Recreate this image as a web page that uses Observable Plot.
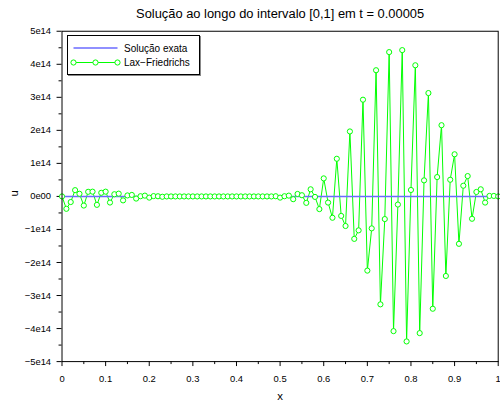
<!DOCTYPE html>
<html><head><meta charset="utf-8">
<script src="https://cdn.jsdelivr.net/npm/d3@7"></script>
<script src="https://cdn.jsdelivr.net/npm/@observablehq/plot@0.6"></script>
<style>
html,body{margin:0;padding:0;background:#fff;overflow:hidden;width:500px;height:408px;}
#wrap{position:relative;width:500px;height:408px;overflow:hidden;}
#wrap svg.plot{display:block;}
.legend{position:absolute;left:67px;top:35px;width:131px;height:38px;border:1px solid #000;background:#fff;box-shadow:1px 1px 0 #888;}
.legend svg{display:block;}
</style></head><body><div id="wrap"></div>
<script>
const title = "Solução ao longo do intervalo [0,1] em t = 0.00005";
const seriesNames = ["Solução exata", "Lax−Friedrichs"];
const xs = [0,0.01,0.02,0.03,0.04,0.05,0.06,0.07,0.08,0.09,
  0.1,0.11,0.12,0.13,0.14,0.15,0.16,0.17,0.18,0.19,
  0.2,0.21,0.22,0.23,0.24,0.25,0.26,0.27,0.28,0.29,
  0.3,0.31,0.32,0.33,0.34,0.35,0.36,0.37,0.38,0.39,
  0.4,0.41,0.42,0.43,0.44,0.45,0.46,0.47,0.48,0.49,
  0.5,0.51,0.52,0.53,0.54,0.55,0.56,0.57,0.58,0.59,
  0.6,0.61,0.62,0.63,0.64,0.65,0.66,0.67,0.68,0.69,
  0.7,0.71,0.72,0.73,0.74,0.75,0.76,0.77,0.78,0.79,
  0.8,0.81,0.82,0.83,0.84,0.85,0.86,0.87,0.88,0.89,
  0.9,0.91,0.92,0.93,0.94,0.95,0.96,0.97,0.98,0.99,1];
// Lax-Friedrichs values, in units of 1e14
const laxFriedrichs = [0,-0.375,-0.17,0.19,0.08,-0.276,0.14,0.144,-0.255,0.11,
  0.144,-0.185,0.066,0.084,-0.12,0.03,0.045,-0.065,0.006,0.024,
  -0.036,0.01,0.005,-0.01,0,0,0,0,0,0,
  0,0,0,0,0,0,0,0,0,0,
  0,0,0,0,0,0,0,0,0,0.006,
  -0.036,0.006,0.024,-0.084,0.075,0.036,-0.195,0.216,-0.015,-0.384,
  0.546,-0.186,-0.646,1.14,-0.59,-0.895,1.967,-1.285,-1.027,2.928,
  -2.246,-0.967,3.82,-3.267,-0.685,4.369,-4.078,-0.246,4.429,-4.39,
  0.195,3.97,-4.138,0.486,3.129,-3.4,0.586,2.156,-2.408,0.505,
  1.276,-1.435,0.324,0.616,-0.676,0.135,0.216,-0.186,0.015,0.015,0];
const exactSolution = [0,0,0,0,0,0,0,0,0,0,0,0,0,0,0,0,0,0,0,0,0,0,0,0,0,0,0,0,0,0,0,0,0,0,0,0,0,0,0,0,0,0,0,0,0,0,0,0,0,0,0,
  0,0,0,0,0,0,0,0,0,0,0,0,0,0,0,0,0,0,0,0,0,0,0,0,0,0,0,0,0,0,0,0,0,0,0,0,0,0,0,0,0,0,0,0,0,0,0,0,0,0];
const xTicks = [0,0.1,0.2,0.3,0.4,0.5,0.6,0.7,0.8,0.9,1];
const xTickLabels = ["0","0.1","0.2","0.3","0.4","0.5","0.6","0.7","0.8","0.9","1"];
const xMinor = [0.05,0.15,0.25,0.35,0.45,0.55,0.65,0.75,0.85,0.95];
const yTicks = [-5e14,-4e14,-3e14,-2e14,-1e14,0,1e14,2e14,3e14,4e14,5e14];
const yTickLabels = ["−5e14","−4e14","−3e14","−2e14","−1e14","0e00","1e14","2e14","3e14","4e14","5e14"];
const yMinor = [-4.5e14,-3.5e14,-2.5e14,-1.5e14,-0.5e14,0.5e14,1.5e14,2.5e14,3.5e14,4.5e14];

const blue = "#6b6bff", green = "#00ff00";
const data = xs.map((x, i) => ({x, u: laxFriedrichs[i] * 1e14, e: exactSolution[i]}));

const W = 504;
const chart = Plot.plot({
  width: W, height: 408,
  marginLeft: 62, marginRight: W - 501.7, marginTop: 31, marginBottom: 44,
  style: {fontFamily: '"Liberation Sans", Arial, sans-serif', fontSize: "9.5px", background: "white", color: "black"},
  x: {domain: [0, 1]},
  y: {domain: [-5e14, 5e14]},
  marks: [
    Plot.axisX({ticks: xTicks, tickFormat: (d, i) => xTickLabels[i], tickSize: 5, tickPadding: 9, label: null}),
    Plot.axisX({ticks: xMinor, tickFormat: () => "", tickSize: 3, label: null}),
    Plot.axisY({ticks: yTicks, tickFormat: (d, i) => yTickLabels[i], tickSize: 5, tickPadding: 6, label: null}),
    Plot.axisY({ticks: yMinor, tickFormat: () => "", tickSize: 3, label: null}),
    Plot.lineY(data, {x: "x", y: "u", stroke: green, strokeWidth: 1}),
    Plot.lineY(data, {x: "x", y: "e", stroke: blue, strokeWidth: 1.5}),
    Plot.dot(data, {x: "x", y: "u", r: 2.6, stroke: green, fill: "white", strokeWidth: 1}),
    Plot.frame({stroke: "black", strokeWidth: 1}),
    Plot.text([title], {frameAnchor: "top", lineAnchor: "middle", dy: -17.5, fontSize: 13, text: d => d}),
    Plot.text(["x"], {frameAnchor: "bottom", lineAnchor: "middle", dy: 35, fontSize: 11.5, text: d => d}),
    Plot.text(["u"], {frameAnchor: "left", lineAnchor: "middle", dx: -48.5, rotate: -90, fontSize: 11.5, text: d => d})
  ]
});
chart.classList.add("plot");
const wrap = document.getElementById("wrap");
wrap.appendChild(chart);

// legend
const leg = document.createElement("div");
leg.className = "legend";
const ns = "http://www.w3.org/2000/svg";
const ls = document.createElementNS(ns, "svg");
ls.setAttribute("width", 131); ls.setAttribute("height", 38);
ls.style.fontFamily = '"Liberation Sans", Arial, sans-serif';
ls.style.fontSize = "10px";
function el(tag, attrs, txt) {
  const e = document.createElementNS(ns, tag);
  for (const k in attrs) e.setAttribute(k, attrs[k]);
  if (txt) e.textContent = txt;
  ls.appendChild(e);
  return e;
}
el("line", {x1: 5.5, x2: 49.5, y1: 12, y2: 12, stroke: blue, "stroke-width": 1.5});
el("text", {x: 56, y: 12, "dominant-baseline": "central", fill: "black"}, seriesNames[0]);
el("line", {x1: 5.5, x2: 49.5, y1: 26.5, y2: 26.5, stroke: green, "stroke-width": 1});
[5.5, 27.5, 49.5].forEach(cx => el("circle", {cx, cy: 26.5, r: 2.6, stroke: green, fill: "white", "stroke-width": 1}));
el("text", {x: 56, y: 26.5, "dominant-baseline": "central", fill: "black"}, seriesNames[1]);
leg.appendChild(ls);
wrap.appendChild(leg);
</script></body></html>
